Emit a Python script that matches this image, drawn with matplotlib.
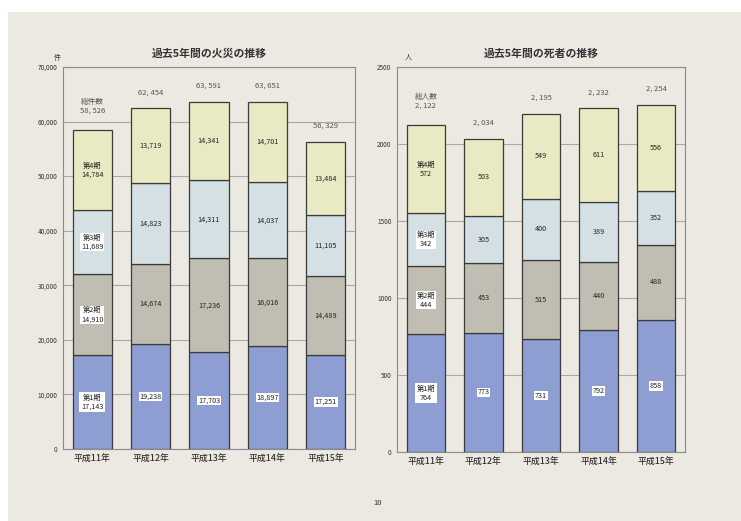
import numpy as np
import matplotlib
matplotlib.use("Agg")
import matplotlib.pyplot as plt
from matplotlib.patches import Rectangle

plt.rcParams['font.family'] = ['Noto Sans CJK JP', 'DejaVu Sans']

years = ["平成11年", "平成12年", "平成13年", "平成14年", "平成15年"]
periods = ["第1期", "第2期", "第3期", "第4期"]

# fires (件)
fire_p1 = [17143, 19238, 17703, 18897, 17251]
fire_p2 = [14910, 14674, 17236, 16016, 14489]
fire_p3 = [11689, 14823, 14311, 14037, 11105]
fire_p4 = [14784, 13719, 14341, 14701, 13484]
fire_total_labels = ["総件数\n58, 526", "62, 454", "63, 591", "63, 651", "56, 329"]
fire_ticks = [0, 10000, 20000, 30000, 40000, 50000, 60000, 70000]
fire_ticklabels = ["0", "10,000", "20,000", "30,000", "40,000", "50,000", "60,000", "70,000"]

# deaths (人)
death_p1 = [764, 773, 731, 792, 858]
death_p2 = [444, 453, 515, 440, 488]
death_p3 = [342, 305, 400, 389, 352]
death_p4 = [572, 503, 549, 611, 556]
death_total_labels = ["総人数\n2, 122", "2, 034", "2, 195", "2, 232", "2, 254"]
death_ticks = [0, 500, 1000, 1500, 2000, 2500]

colors = ["#8e9ed3", "#c0beb2", "#d4e0e4", "#e9e9c4"]
paper = "#ebe9e2"

fig = plt.figure(figsize=(7.41, 5.21), dpi=100)
fig.patch.set_facecolor("white")
fig.patches.append(Rectangle((8/741, 0), 1, 1 - 12/521, transform=fig.transFigure,
                             facecolor=paper, edgecolor="none", zorder=-10))


def draw_chart(ax, series, total_labels, ticks, ticklabels, ymax, title, unit, fmt):
    x = np.arange(len(years))
    bottom = np.zeros(len(years))
    for i, vals in enumerate(series):
        vals = np.array(vals, dtype=float)
        ax.bar(x, vals, 0.67, bottom=bottom, color=colors[i], edgecolor="#3a3a3a",
               linewidth=0.9, zorder=3)
        for j in range(len(years)):
            txt = fmt(vals[j])
            pad = 0.08
            if j == 0:
                txt = periods[i] + "\n" + txt
                pad = 0.25 if i == 0 else 0.08
            box = None
            if i == 0 or (j == 0 and i != 3):
                box = dict(boxstyle="square,pad=%s" % pad, fc="white", ec="none")
            ax.text(x[j], bottom[j] + vals[j] / 2, txt, ha="center", va="center",
                    fontsize=5.2, color="#222", zorder=5, linespacing=1.15, bbox=box)
        bottom += vals
    for j in range(len(years)):
        off = 17 if "\n" in total_labels[j] else 11.5
        ax.annotate(total_labels[j], (x[j], bottom[j]), xytext=(0, off),
                    textcoords="offset points", ha="center", va="center",
                    fontsize=5.5, color="#555", linespacing=1.15)
    ax.set_xlim(-0.5, len(years) - 0.5)
    ax.set_ylim(0, ymax)
    ax.set_yticks(ticks)
    ax.set_yticklabels(ticklabels, fontsize=4.6, color="#333")
    ax.set_xticks(x)
    ax.set_xticklabels(years, fontsize=6.4, color="#333", fontweight="medium")
    ax.tick_params(length=0, pad=4)
    ax.yaxis.grid(True, color="#a8a8a4", linewidth=0.8, zorder=0)
    ax.set_axisbelow(True)
    ax.set_facecolor("none")
    for s in ax.spines.values():
        s.set_color("#8a8a86")
        s.set_linewidth(0.8)
    ax.set_title(title, fontsize=7.8, fontweight="bold", color="#333", pad=7)
    ax.text(-0.02, 1.012, unit, transform=ax.transAxes, ha="center", va="bottom",
            fontsize=5, color="#333")


ax1 = fig.add_axes([63/741, 1 - 449/521, 292/741, 382/521])
draw_chart(ax1, [fire_p1, fire_p2, fire_p3, fire_p4], fire_total_labels, fire_ticks,
           fire_ticklabels, 70000, "過去5年間の火災の推移", "件", lambda v: "{:,}".format(int(v)))

ax2 = fig.add_axes([397/741, 1 - 452/521, 288/741, 385/521])
draw_chart(ax2, [death_p1, death_p2, death_p3, death_p4], death_total_labels, death_ticks,
           [str(t) for t in death_ticks], 2500, "過去5年間の死者の推移", "人",
           lambda v: str(int(v)))
ax2.texts[-1].set_position((0.04, 1.012))

fig.text(378/741, 1 - 503/521, "10", ha="center", va="center", fontsize=5.5, color="#333")

fig.savefig("out.png", dpi=100, facecolor=fig.get_facecolor())
